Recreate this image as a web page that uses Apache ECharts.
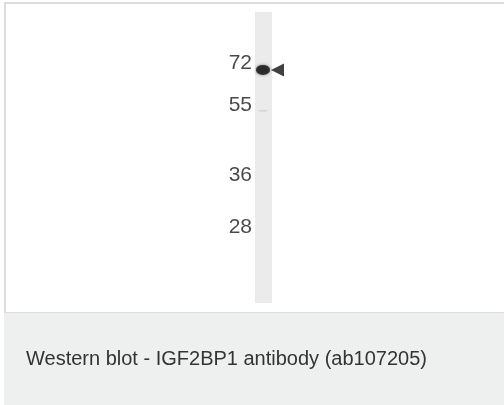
<!DOCTYPE html>
<html><head><meta charset="utf-8">
<script src="https://cdn.jsdelivr.net/npm/echarts@6/dist/echarts.min.js"></script>
<style>html,body{margin:0;padding:0;background:#fff}#c{width:504px;height:405px}</style>
</head><body><div id="c"></div><script>
// Molecular-weight marker labels (kDa) and their migration (% of lane length)
const markerLabels = ['72', '55', '36', '28'];
const markerPositions = [17.5, 32.2, 56.2, 74.0];
// Detected bands: migration (% of lane) and relative intensity
const bandPositions = [19.9, 33.9];
const bandIntensity = [1, 0.15];
// Arrow pointing at the main band
const arrowPositions = [19.9];
const caption = 'Western blot - IGF2BP1 antibody (ab107205)';

const chart = echarts.init(document.getElementById('c'), null, {renderer: 'canvas'});
const font = '"Liberation Sans", Arial, sans-serif';

chart.setOption({
  animation: false,
  backgroundColor: 'transparent',
  graphic: [
    {type: 'rect', z: -10, silent: true, shape: {x: 5, y: 3, width: 520, height: 310},
     style: {fill: '#ffffff', stroke: '#dcdcdc', lineWidth: 2}},
    {type: 'rect', z: -10, silent: true, shape: {x: 4, y: 313, width: 520, height: 100},
     style: {fill: '#eef0ef'}}
  ],
  title: {
    text: caption, left: 26, top: 349, padding: 0,
    textStyle: {fontSize: 20, fontWeight: 'normal', color: '#333', fontFamily: font}
  },
  grid: {left: 255, top: 12, width: 17, height: 291, show: true,
         backgroundColor: '#ebebeb', borderWidth: 0},
  xAxis: {type: 'value', min: 0, max: 1, show: false},
  yAxis: {type: 'value', min: 0, max: 100, inverse: true, show: false},
  series: [
    {
      type: 'scatter', clip: false, symbolSize: 0, silent: true,
      data: markerPositions.map(p => [0, p]),
      label: {show: true, position: 'left', distance: 3,
              formatter: p => markerLabels[p.dataIndex],
              fontSize: 21, color: '#1a1a1a', fontFamily: font}
    },
    {
      type: 'scatter', clip: false, silent: true,
      data: bandPositions.map((p, i) => ({
        value: [0.47, p],
        symbolSize: bandIntensity[i] > 0.5 ? [14, 10] : [9, 2],
        itemStyle: bandIntensity[i] > 0.5
          ? {color: '#151515', shadowBlur: 3, shadowColor: 'rgba(0,0,0,0.6)'}
          : {color: '#cfcfcf'}
      }))
    },
    {
      type: 'scatter', clip: false, silent: true,
      symbol: 'triangle', symbolRotate: 90, symbolSize: [13, 13], symbolOffset: [5.5, 0],
      itemStyle: {color: '#111'},
      data: arrowPositions.map(p => [1, p])
    }
  ]
});
</script></body></html>
